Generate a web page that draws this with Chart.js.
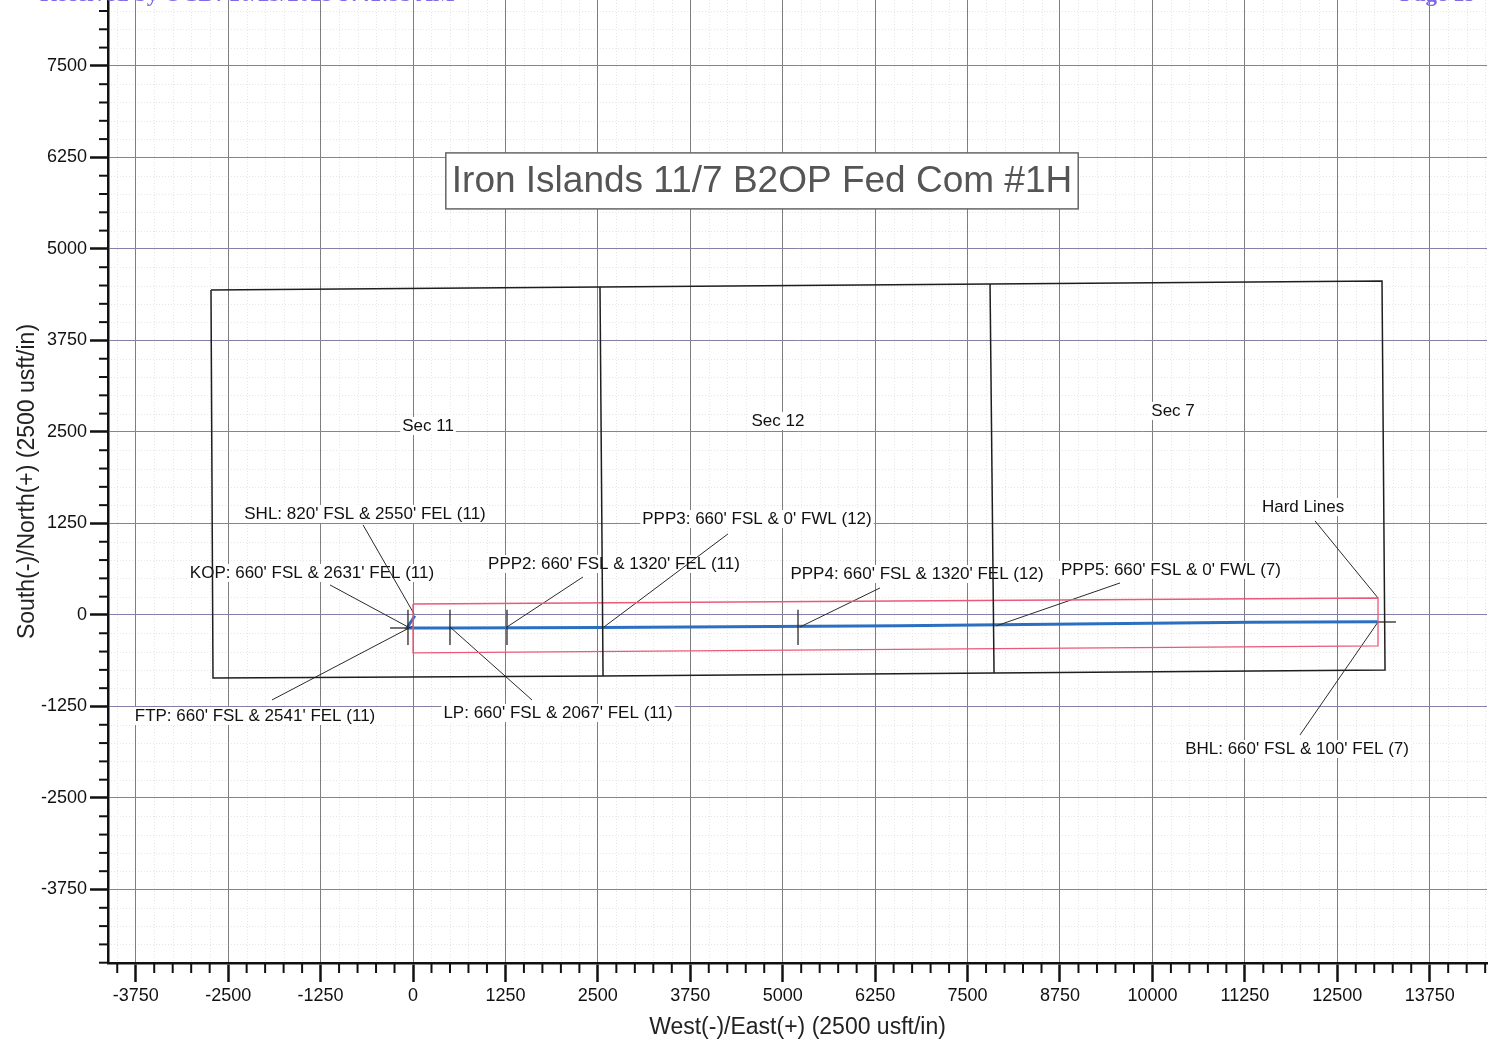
<!DOCTYPE html>
<html>
<head>
<meta charset="utf-8">
<script src="https://cdn.jsdelivr.net/npm/chart.js@4.4.1/dist/chart.umd.min.js"></script>
<style>
  body { margin: 0; background: #fff; overflow: hidden; }
  #wrap { position: relative; width: 1499px; height: 1045px; }
  .hdr { position: absolute; top: -19px; font: bold 23px "Liberation Serif", serif; color: #8068e6; white-space: nowrap; }
</style>
</head>
<body>
<div id="wrap">
  <canvas id="plan" width="1499" height="1045"></canvas>
  <div class="hdr" style="left:40px">Received by OCD: 10/23/2023 9:41:35 AM</div>
  <div class="hdr" style="left:1400px">Page 19</div>
</div>
<script>
// axis extents and tick labels (usft)
const xMin = -4125, xMax = 14525;
const yMin = -4754, yMax = 8400;
const xTicks = [-3750, -2500, -1250, 0, 1250, 2500, 3750, 5000, 6250, 7500, 8750, 10000, 11250, 12500, 13750];
const yTicks = [-3750, -2500, -1250, 0, 1250, 2500, 3750, 5000, 6250, 7500];

// section outline (Sec 11, 12, 7)
const sectionX = [-2732, 2529, 7804, 13105, 13146, 7858, 2570, -2705, -2732];
const sectionY = [4440, 4481, 4522, 4563, -751, -792, -833, -861, 4440];
const sec11LineX = [2529, 2570], sec11LineY = [4481, -833];
const sec12LineX = [7804, 7858], sec12LineY = [4522, -792];

// hard lines
const hardX = [0, 13051, 13051, 0, 0];
const hardY = [150, 232, -423, -519, 150];

// wellbore plan
const wellX = [25, -81, 483, 2550, 6586, 11320, 13051];
const wellY = [-10, -178, -178, -172, -146, -100, -92];

// point markers across the wellbore (KOP, LP, PPP2, PPP4)
const markerX = [-68, 500, 1271, 5207];
const markerTop = 70, markerBottom = -410;

// small cross lines at KOP and BHL
const crossFromX = [-311, 13051], crossToX = [-68, 13294], crossY = [-178, -96];

// leader lines: label end -> well end
const leaderFromX = [-676, -1123, -1907, 1609, 2299, 4260, 6316, 9562, 12199, 11996];
const leaderFromY = [1230, 410, -1161, -1161, 519, 1107, 369, 437, 1284, -1639];
const leaderToX = [14, -68, 0, 500, 1271, 2583, 5234, 7885, 13051, 13051];
const leaderToY = [14, -164, -150, -164, -164, -164, -164, -150, 232, -96];

// text labels
const labelText = [
  "Sec 11", "Sec 12", "Sec 7",
  "SHL: 820' FSL & 2550' FEL (11)",
  "KOP: 660' FSL & 2631' FEL (11)",
  "PPP2: 660' FSL & 1320' FEL (11)",
  "PPP3: 660' FSL & 0' FWL (12)",
  "PPP4: 660' FSL & 1320' FEL (12)",
  "PPP5: 660' FSL & 0' FWL (7)",
  "Hard Lines",
  "FTP: 660' FSL & 2541' FEL (11)",
  "LP: 660' FSL & 2067' FEL (11)",
  "BHL: 660' FSL & 100' FEL (7)"
];
const labelX = [203, 4936, 10279, -649, -1366, 2718, 4652, 6816, 10251, 12037, -2137, 1961, 11956];
const labelY = [2582, 2650, 2787, 1380, 574, 697, 1311, 560, 615, 1475, -1380, -1339, -1831];

const planTitle = "Iron Islands 11/7 B2OP Fed Com #1H";
const planTitleX = 4720, planTitleY = 5929;

const FONT = '"Liberation Sans", Arial, sans-serif';

function pts(xs, ys) {
  return xs.map((x, i) => ({ x: x, y: ys[i] }));
}

function lineSet(data, color, width) {
  return { data: data, showLine: true, borderColor: color, borderWidth: width, pointRadius: 0, fill: false };
}

const datasets = [];
datasets.push(lineSet(pts(sectionX, sectionY), '#1e1e1e', 1.5));
datasets.push(lineSet(pts(sec11LineX, sec11LineY), '#1e1e1e', 1.5));
datasets.push(lineSet(pts(sec12LineX, sec12LineY), '#1e1e1e', 1.5));
datasets.push(lineSet(pts(hardX, hardY), '#e85a78', 1.3));
markerX.forEach(mx => {
  datasets.push(lineSet(pts([mx, mx], [markerTop, markerBottom]), '#2a2a2a', 1.3));
});
crossFromX.forEach((cx, i) => {
  datasets.push(lineSet(pts([cx, crossToX[i]], [crossY[i], crossY[i]]), '#2a2a2a', 1.3));
});
leaderFromX.forEach((lx, i) => {
  datasets.push(lineSet(pts([lx, leaderToX[i]], [leaderFromY[i], leaderToY[i]]), '#2a2a2a', 1));
});
datasets.push(lineSet(pts(wellX, wellY), '#2b6fc0', 3));

// faint graph-paper lines and minor axis ticks
const paperGrid = {
  id: 'paperGrid',
  beforeDraw(chart) {
    const { ctx, chartArea: a, scales: { x, y } } = chart;
    ctx.save();
    ctx.strokeStyle = '#e6e6e6';
    ctx.lineWidth = 1;
    ctx.setLineDash([1, 2]);
    for (let v = Math.ceil(x.min / 250) * 250; v <= x.max; v += 250) {
      if (v % 1250 === 0) continue;
      const p = Math.round(x.getPixelForValue(v)) + 0.5;
      ctx.beginPath(); ctx.moveTo(p, a.top); ctx.lineTo(p, a.bottom); ctx.stroke();
    }
    for (let v = Math.ceil(y.min / 250) * 250; v <= y.max; v += 250) {
      if (v % 1250 === 0) continue;
      const p = Math.round(y.getPixelForValue(v)) + 0.5;
      ctx.beginPath(); ctx.moveTo(a.left, p); ctx.lineTo(a.right, p); ctx.stroke();
    }
    ctx.restore();
  },
  afterDraw(chart) {
    const { ctx, chartArea: a, scales: { x, y } } = chart;
    ctx.save();
    ctx.strokeStyle = '#111';
    ctx.lineWidth = 2;
    for (let v = Math.ceil(x.min / 250) * 250; v <= x.max; v += 250) {
      if (v % 1250 === 0) continue;
      const p = x.getPixelForValue(v);
      ctx.beginPath(); ctx.moveTo(p, a.bottom); ctx.lineTo(p, a.bottom + 10); ctx.stroke();
    }
    for (let v = Math.ceil(y.min / 250) * 250; v <= y.max; v += 250) {
      if (v % 1250 === 0) continue;
      const p = y.getPixelForValue(v);
      ctx.beginPath(); ctx.moveTo(a.left - 9, p); ctx.lineTo(a.left, p); ctx.stroke();
    }
    ctx.restore();
  }
};

// labels and title box, drawn under the lines
const planLabels = {
  id: 'planLabels',
  beforeDatasetsDraw(chart) {
    const { ctx, scales: { x, y } } = chart;
    ctx.save();
    ctx.textAlign = 'center';
    ctx.textBaseline = 'middle';
    ctx.font = '17px ' + FONT;
    labelText.forEach((t, i) => {
      const px = x.getPixelForValue(labelX[i]);
      const py = y.getPixelForValue(labelY[i]);
      const w = ctx.measureText(t).width;
      ctx.fillStyle = '#fff';
      ctx.fillRect(px - w / 2 - 2, py - 9, w + 4, 18);
      ctx.fillStyle = '#111';
      ctx.fillText(t, px, py);
    });
    // title box
    ctx.font = '37px ' + FONT;
    const tx = x.getPixelForValue(planTitleX);
    const ty = y.getPixelForValue(planTitleY);
    const tw = ctx.measureText(planTitle).width;
    const bw = tw + 12, bh = 56;
    ctx.fillStyle = '#fff';
    ctx.fillRect(tx - bw / 2, ty - bh / 2, bw, bh);
    ctx.strokeStyle = '#666';
    ctx.lineWidth = 1.5;
    ctx.strokeRect(tx - bw / 2, ty - bh / 2, bw, bh);
    ctx.fillStyle = '#555';
    ctx.fillText(planTitle, tx, ty + 1);
    ctx.restore();
  }
};

const tickFont = { family: FONT, size: 18 };

new Chart(document.getElementById('plan'), {
  type: 'scatter',
  data: { datasets: datasets },
  plugins: [paperGrid, planLabels],
  options: {
    responsive: false,
    animation: false,
    devicePixelRatio: 1,
    layout: { padding: { left: 0, right: 12, top: 0, bottom: 0 } },
    plugins: { legend: { display: false }, tooltip: { enabled: false } },
    scales: {
      x: {
        type: 'linear', min: xMin, max: xMax,
        afterBuildTicks: s => { s.ticks = xTicks.map(v => ({ value: v })); },
        ticks: { color: '#111', font: tickFont, padding: 3, maxRotation: 0, autoSkip: false, callback: v => String(v) },
        grid: { color: '#7d7d7d', lineWidth: 1, tickColor: '#111', tickWidth: 2.5, tickLength: 19 },
        border: { color: '#111', width: 2.5 },
        title: { display: true, text: 'West(-)/East(+) (2500 usft/in)', color: '#222', font: { family: FONT, size: 23 }, padding: { top: 0, bottom: 4 } },
        afterFit: s => { s.height = 82; s.paddingLeft = 0; s.paddingRight = 0; }
      },
      y: {
        type: 'linear', min: yMin, max: yMax,
        afterBuildTicks: s => { s.ticks = yTicks.map(v => ({ value: v })); },
        ticks: { color: '#111', font: tickFont, padding: 3, autoSkip: false, callback: v => String(v) },
        grid: { color: '#8480a6', lineWidth: 1, tickColor: '#111', tickWidth: 2.5, tickLength: 18 },
        border: { color: '#111', width: 2.5 },
        title: { display: true, text: 'South(-)/North(+) (2500 usft/in)', color: '#222', font: { family: FONT, size: 23 }, padding: { top: 14, bottom: 0 } },
        afterFit: s => { s.width = 108; s.paddingTop = 0; s.paddingBottom = 0; }
      }
    }
  }
});
</script>
</body>
</html>
